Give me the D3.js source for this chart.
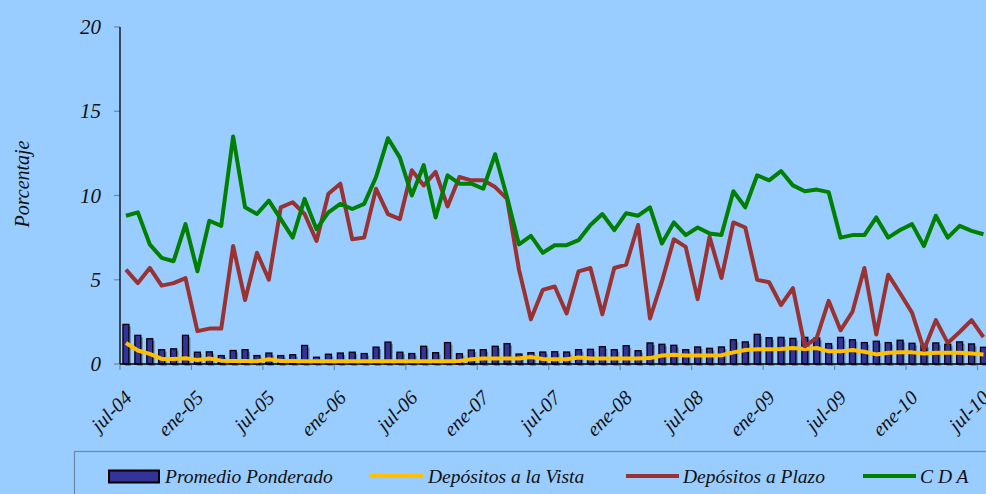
<!DOCTYPE html>
<html>
<head>
<meta charset="utf-8">
<script src="https://cdn.jsdelivr.net/npm/d3@7"></script>
<style>
  body { margin: 0; background: #99ccff; }
  svg { display: block; }
  text { font-family: "Liberation Serif", "DejaVu Serif", serif; font-style: italic; }
</style>
</head>
<body>
<div id="chart"></div>
<script>
// monthly series, jul-04 .. jul-10 (73 months)
const promedio = [2.35,1.7,1.5,0.85,0.9,1.7,0.7,0.72,0.5,0.8,0.85,0.5,0.65,0.5,0.55,1.1,0.4,0.58,0.65,0.7,0.62,1.0,1.3,0.7,
  0.62,1.05,0.67,1.27,0.61,0.83,0.85,1.05,1.21,0.59,0.67,0.71,0.73,0.71,0.85,0.87,1.03,0.85,1.09,0.79,1.25,1.17,1.11,0.85,
  1.01,0.93,1.01,1.44,1.31,1.76,1.56,1.58,1.52,1.58,1.54,1.21,1.58,1.44,1.27,1.35,1.27,1.41,1.23,1.1,1.25,1.17,1.31,1.19,0.99];
const vista = [1.25,0.8,0.6,0.3,0.3,0.34,0.24,0.33,0.2,0.18,0.18,0.16,0.28,0.18,0.18,0.17,0.17,0.17,0.17,0.17,0.17,0.17,0.17,0.17,
  0.16,0.16,0.16,0.17,0.18,0.28,0.32,0.32,0.32,0.33,0.42,0.3,0.28,0.28,0.38,0.33,0.33,0.33,0.33,0.33,0.35,0.5,0.55,0.5,
  0.5,0.5,0.52,0.69,0.83,0.87,0.87,0.89,0.95,0.89,0.95,0.75,0.75,0.83,0.73,0.57,0.67,0.69,0.69,0.63,0.67,0.67,0.67,0.63,0.57];
const plazo = [5.6,4.8,5.7,4.65,4.8,5.1,1.95,2.1,2.1,7.0,3.8,6.6,5.0,9.3,9.6,8.9,7.3,10.1,10.7,7.4,7.5,10.4,8.9,8.6,
  11.5,10.6,11.4,9.35,11.1,10.9,10.9,10.5,9.8,5.6,2.65,4.4,4.6,3.0,5.5,5.7,2.95,5.7,5.9,8.25,2.7,4.9,7.4,6.95,
  3.85,7.55,5.1,8.4,8.1,5.0,4.85,3.5,4.5,1.05,1.55,3.75,2.0,3.1,5.7,1.75,5.3,4.2,3.05,0.85,2.6,1.25,1.9,2.6,1.6];
const cda = [8.8,9.0,7.1,6.3,6.1,8.3,5.5,8.5,8.2,13.5,9.3,8.9,9.7,8.6,7.5,9.8,8.0,9.0,9.5,9.2,9.5,11.1,13.4,12.25,
  10.0,11.8,8.7,11.2,10.7,10.7,10.4,12.45,9.9,7.1,7.6,6.6,7.05,7.05,7.35,8.25,8.9,7.95,8.95,8.8,9.3,7.15,8.4,7.65,
  8.1,7.75,7.65,10.25,9.3,11.2,10.9,11.45,10.6,10.25,10.35,10.2,7.5,7.65,7.65,8.7,7.5,7.95,8.3,7.0,8.8,7.5,8.2,7.9,7.7];

const tickLabels = ['jul-04','ene-05','jul-05','ene-06','jul-06','ene-07','jul-07','ene-08','jul-08','ene-09','jul-09','ene-10','jul-10'];
const yTicks = [0, 5, 10, 15, 20];
const legendNames = ['Promedio Ponderado', 'Depósitos a la Vista', 'Depósitos a Plazo', 'C D A'];

const W = 986, H = 494;
const svg = d3.select('#chart').append('svg').attr('width', W).attr('height', H);
svg.append('rect').attr('width', W).attr('height', H).attr('fill', '#99ccff');

const idx = d3.range(promedio.length);
const x = d3.scaleBand().domain(idx).range([120, 120 + 73 * 11.91]).paddingInner(0.5).paddingOuter(0.25);
const y = d3.scaleLinear().domain([0, 20]).range([364, 27]);
const cx = i => x(i) + x.bandwidth() / 2;
const step = x.step();
const left = 120;

// bars with shadow
const bars = svg.append('g');
bars.selectAll('rect.sh').data(promedio).join('rect')
  .attr('class', 'sh')
  .attr('x', (d, i) => x(i) + 2)
  .attr('y', d => y(d) + 2)
  .attr('width', x.bandwidth())
  .attr('height', d => y(0) - y(d))
  .attr('fill', '#6f8fb3');
bars.selectAll('rect.b').data(promedio).join('rect')
  .attr('class', 'b')
  .attr('x', (d, i) => x(i))
  .attr('y', d => y(d))
  .attr('width', x.bandwidth())
  .attr('height', d => y(0) - y(d))
  .attr('fill', '#333399')
  .attr('stroke', '#000')
  .attr('stroke-width', 1.3);

// axes
const tickCol = '#6a86a8';
const yAxis = svg.append('g');
yAxis.selectAll('line').data(yTicks).join('line')
  .attr('x1', left - 6).attr('x2', left)
  .attr('y1', d => y(d)).attr('y2', d => y(d))
  .attr('stroke', tickCol).attr('stroke-width', 1.2);
yAxis.selectAll('text').data(yTicks).join('text')
  .attr('x', 101).attr('y', d => y(d) + 7)
  .attr('text-anchor', 'end')
  .attr('font-size', 21)
  .attr('fill', '#111')
  .text(d => d);
svg.append('line').attr('x1', left).attr('x2', left).attr('y1', y(20)).attr('y2', y(0))
  .attr('stroke', '#000').attr('stroke-width', 1.3);

const xTicks = tickLabels.map((t, k) => k * 6);
const xAxis = svg.append('g');
xAxis.selectAll('line').data(xTicks).join('line')
  .attr('x1', d => left + d * step).attr('x2', d => left + d * step)
  .attr('y1', y(0)).attr('y2', y(0) + 6)
  .attr('stroke', tickCol).attr('stroke-width', 1.2);
xAxis.selectAll('text').data(tickLabels).join('text')
  .attr('transform', (d, k) => `translate(${left + k * 6 * step + 13},${y(0) + 35}) rotate(-45)`)
  .attr('text-anchor', 'end')
  .attr('font-size', 20)
  .attr('fill', '#111')
  .text(d => d);
svg.append('line').attr('x1', left).attr('x2', W).attr('y1', y(0)).attr('y2', y(0))
  .attr('stroke', '#000').attr('stroke-width', 1.3);

svg.append('text')
  .attr('transform', 'translate(29,184) rotate(-90)')
  .attr('text-anchor', 'middle')
  .attr('font-size', 20)
  .attr('fill', '#111')
  .text('Porcentaje');

// lines
const line = d3.line().x((d, i) => cx(i)).y(d => y(d));
const series = [
  { v: vista, c: '#ffc000' },
  { v: plazo, c: '#993333' },
  { v: cda, c: '#008000' }
];
series.forEach(s => {
  svg.append('path').attr('d', line(s.v))
    .attr('fill', 'none').attr('stroke', s.c).attr('stroke-width', 4)
    .attr('stroke-linejoin', 'round');
});

// legend
const lg = svg.append('g');
lg.append('rect').attr('x', 74.5).attr('y', 451.5).attr('width', 1000).attr('height', 100)
  .attr('fill', 'none').attr('stroke', '#6a86a8').attr('stroke-width', 1.2);
lg.append('rect').attr('x', 109).attr('y', 470.5).attr('width', 50).attr('height', 12)
  .attr('fill', '#333399').attr('stroke', '#000').attr('stroke-width', 2);
const lineKeys = [[370, '#ffc000'], [626, '#993333'], [863, '#008000']];
lineKeys.forEach(k => {
  lg.append('line').attr('x1', k[0]).attr('x2', k[0] + 53).attr('y1', 476).attr('y2', 476)
    .attr('stroke', k[1]).attr('stroke-width', 4);
});
const textX = [165, 428, 683, 920];
lg.selectAll('text').data(legendNames).join('text')
  .attr('x', (d, i) => textX[i]).attr('y', 483)
  .attr('font-size', 19.5)
  .attr('fill', '#111')
  .text(d => d);
</script>
</body>
</html>
